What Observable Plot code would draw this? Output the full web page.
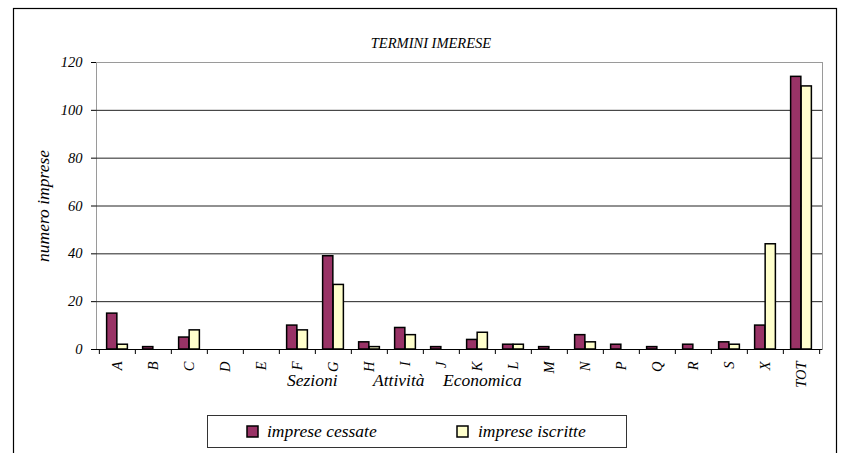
<!DOCTYPE html>
<html><head><meta charset="utf-8">
<script src="https://cdn.jsdelivr.net/npm/d3@7"></script>
<script src="https://cdn.jsdelivr.net/npm/@observablehq/plot@0.6"></script>
<style>
body{margin:0;background:#fff}
#chart svg text{font-family:"Liberation Serif","Times New Roman",serif;font-style:italic;font-size:14.5px;fill:#000}
</style></head><body><div id="chart"></div><script>
const categories = ["A","B","C","D","E","F","G","H","I","J","K","L","M","N","P","Q","R","S","X","TOT"];
const cessate  = [15,1,5,0,0,10,39,3,9,1,4,2,1,6,2,1,2,3,10,114];
const iscritte = [2,0,8,0,0,8,27,1,6,0,7,2,0,3,0,0,0,2,44,110];
const yTicks = [0,20,40,60,80,100,120];
const seriesNames = ["imprese cessate","imprese iscritte"];
const colors = ["#993366","#FFFFCC"];
const title = "TERMINI IMERESE";
const yLabel = "numero imprese";
const xLabelWords = ["Sezioni","Attività","Economica"];

const W = 841, H = 453, mL = 96, mR = 19, mT = 62, mB = 104;
const bw = (W - mL - mR) / categories.length;
const barW = bw * 0.29;
const rowsC = categories.map((c, i) => ({c, v: cessate[i]})).filter(d => d.v > 0);
const rowsI = categories.map((c, i) => ({c, v: iscritte[i]})).filter(d => d.v > 0);

const chart = Plot.plot({
  width: W, height: H,
  marginLeft: mL, marginRight: mR, marginTop: mT, marginBottom: mB,
  style: "font-family: 'Liberation Serif', serif; font-size: 14.5px; font-style: italic; color: #000; background: #fff;",
  x: {type: "band", domain: categories, padding: 0, tickRotate: -90, tickSize: 0, tickPadding: 12, label: null},
  y: {domain: [0, 120], ticks: yTicks, tickSize: 5, tickPadding: 9, label: null, line: true},
  marks: [
    Plot.frame({stroke: "#9a9a9a"}),
    Plot.ruleY(yTicks.filter(t => t > 0 && t < 120), {stroke: "#222", strokeWidth: 1}),
    Plot.barY(rowsC, {x: "c", y: "v", fill: colors[0], stroke: "#000", strokeWidth: 1.5,
      insetLeft: bw / 2 - barW, insetRight: bw / 2}),
    Plot.barY(rowsI, {x: "c", y: "v", fill: colors[1], stroke: "#000", strokeWidth: 1.5,
      insetLeft: bw / 2, insetRight: bw / 2 - barW}),
    Plot.ruleY([0], {stroke: "#000", strokeWidth: 1.2}),
    Plot.ruleX(categories, {x: d => d, y1: d => 0, y2: d => 0, insetTop: 5, dx: -bw / 2, stroke: "#000"}),
    Plot.ruleX(categories.slice(-1), {x: d => d, y1: d => 0, y2: d => 0, insetTop: 5, dx: bw / 2, stroke: "#000"})
  ]
});

const svg = d3.select(chart);
const addText = (x, y, size, anchor, str) =>
  svg.append("text").attr("x", x).attr("y", y).attr("text-anchor", anchor)
    .style("font-size", size + "px").text(str);
svg.append("rect").attr("x", 13.5).attr("y", 8.5).attr("width", 823).attr("height", 470)
  .attr("fill", "none").attr("stroke", "#000").attr("stroke-width", 1.2);
addText(431, 48, 14.5, "middle", title);
addText(0, 0, 17.5, "middle", yLabel).attr("transform", "translate(49,206) rotate(-90)");
const xWordPos = [287, 373, 443];
xLabelWords.forEach((w, i) => addText(xWordPos[i], 386, 17.5, "start", w));
// legend
svg.append("rect").attr("x", 207.5).attr("y", 415.5).attr("width", 419).attr("height", 32)
  .attr("fill", "#fff").attr("stroke", "#333").attr("stroke-width", 1);
const swX = [247, 457], txX = [267, 478];
seriesNames.forEach((n, i) => {
  svg.append("rect").attr("x", swX[i]).attr("y", 426).attr("width", 11).attr("height", 11)
    .attr("fill", colors[i]).attr("stroke", "#000").attr("stroke-width", 1.5);
  addText(txX[i], 437, 17.5, "start", n);
});
document.getElementById("chart").appendChild(chart);
</script></body></html>
